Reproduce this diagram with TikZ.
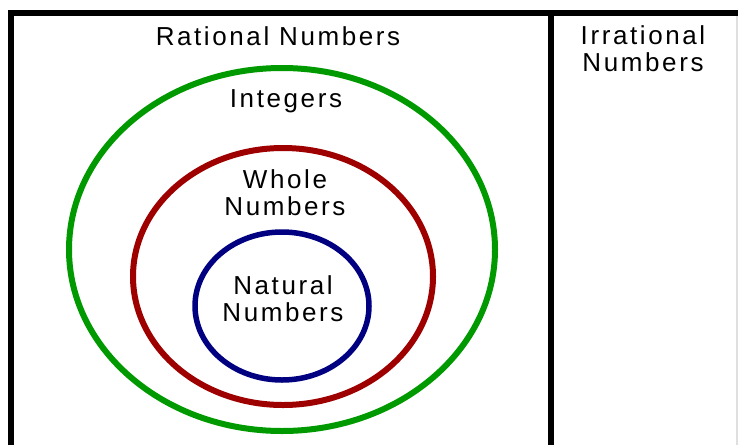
\documentclass[tikz,border=0pt]{standalone}
\usepackage{fontspec}
\setmainfont[LetterSpace=10]{Liberation Sans}
\usepackage{xcolor}
\definecolor{intgreen}{HTML}{009A00}
\definecolor{wholered}{HTML}{9E0000}
\definecolor{natblue}{HTML}{000080}

\begin{document}
\begin{tikzpicture}[
    x=1pt, y=-1pt,
    frame/.style={line width=6pt, black},
    ring/.style={line width=6pt, draw=#1},
    txt/.style={align=center, inner sep=0pt, font=\fontsize{26}{27}\selectfont}
]
\useasboundingbox (0,0) rectangle (738,445);

% table lines
\draw[gray!25, line width=2pt] (737,13) -- (737,445);
\draw[frame] (11,445) -- (11,13) -- (738,13);
\draw[frame] (551,13) -- (551,445);

% sets
\draw[ring=intgreen] (282,249.5) ellipse [x radius=213pt, y radius=181.5pt];
\draw[ring=wholered] (283,276.5) ellipse [x radius=150pt, y radius=128.5pt];
\draw[ring=natblue, line width=5.5pt] (282,306) ellipse [x radius=87pt, y radius=74pt];

% labels
\node[txt, anchor=base] (rat) at (278,45) {Rational Numbers};
\node[txt, anchor=base] (int) at (286,107) {Integers};
\node[txt] (whole) at (285,192.5) {Whole\\Numbers};
\node[txt] (nat) at (283,298.5) {Natural\\Numbers};
\node[txt] (irr) at (643,49) {Irrational\\Numbers};
\end{tikzpicture}
\end{document}
